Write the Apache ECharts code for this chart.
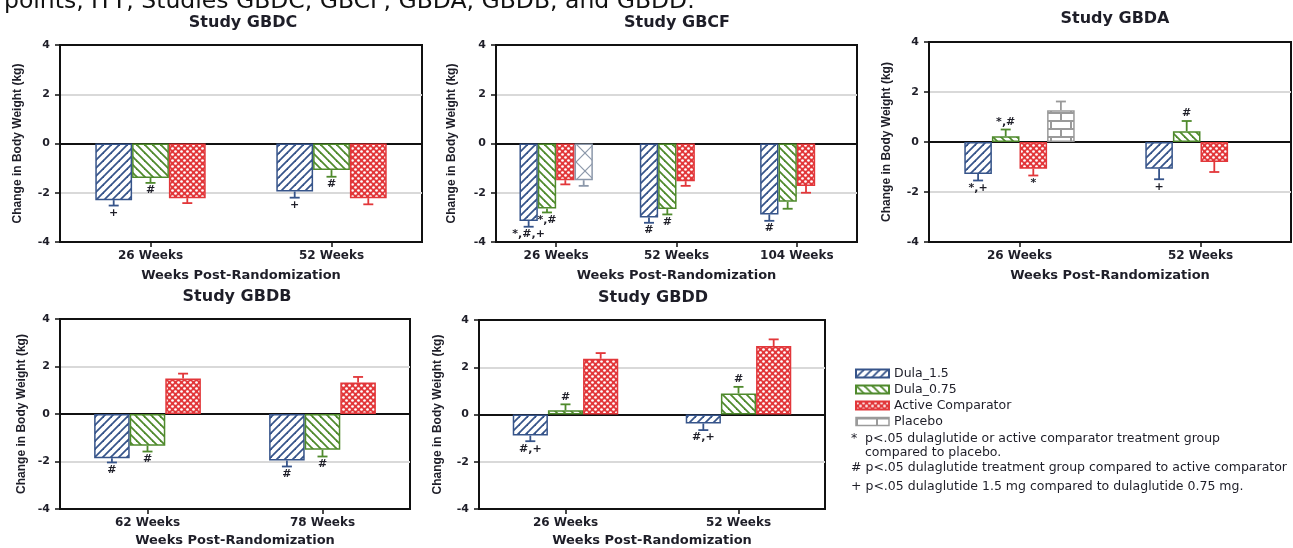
<!DOCTYPE html>
<html>
<head>
<meta charset="utf-8">
<script src="https://cdn.jsdelivr.net/npm/echarts@6/dist/echarts.min.js"></script>
<style>
html,body{margin:0;padding:0;background:#fff;}
#chart{width:1293px;height:548px;}
</style>
</head>
<body>
<div id="chart"></div>
<script>
// ---------------- DATA ----------------
const headerText = 'points, ITT, Studies GBDC, GBCF, GBDA, GBDB, and GBDD.';
const studyTitles = ['Study GBDC', 'Study GBCF', 'Study GBDA', 'Study GBDB', 'Study GBDD'];
const seriesNames = ['Dula_1.5', 'Dula_0.75', 'Active Comparator', 'Placebo'];
const xAxisTitle = 'Weeks Post-Randomization';
const yAxisTitle = 'Change in Body Weight (kg)';
const yMin = -4, yMax = 4, yStep = 2;
const footnotes = [
  ['*', 'p<.05 dulaglutide or active comparator treatment group'],
  ['', 'compared to placebo.'],
  ['', '# p<.05 dulaglutide treatment group compared to active comparator'],
  ['', '+ p<.05 dulaglutide 1.5 mg compared to dulaglutide 0.75 mg.']
];

// Study GBDC
const gbdcWeeks = ['26 Weeks', '52 Weeks'];
const gbdcDula15 = [-2.30, -1.95];  const gbdcDula15SE = [0.22, 0.25];  const gbdcDula15Sig = ['+', '+'];
const gbdcDula075 = [-1.40, -1.08]; const gbdcDula075SE = [0.20, 0.27]; const gbdcDula075Sig = ['#', '#'];
const gbdcActive = [-2.22, -2.22];  const gbdcActiveSE = [0.20, 0.25];  const gbdcActiveSig = ['', ''];

// Study GBCF
const gbcfWeeks = ['26 Weeks', '52 Weeks', '104 Weeks'];
const gbcfDula15 = [-3.15, -3.01, -2.88];  const gbcfDula15SE = [0.23, 0.21, 0.26];  const gbcfDula15Sig = ['*,#,+', '#', '#'];
const gbcfDula075 = [-2.64, -2.66, -2.37]; const gbcfDula075SE = [0.16, 0.22, 0.28]; const gbcfDula075Sig = ['*,#', '#', ''];
const gbcfActive = [-1.49, -1.53, -1.73];  const gbcfActiveSE = [0.17, 0.19, 0.27];  const gbcfActiveSig = ['', '', ''];
const gbcfPlacebo = [-1.49, null, null];   const gbcfPlaceboSE = [0.23, null, null]; const gbcfPlaceboSig = ['', '', ''];

// Study GBDA
const gbdaWeeks = ['26 Weeks', '52 Weeks'];
const gbdaDula15 = [-1.28, -1.07];  const gbdaDula15SE = [0.26, 0.42];  const gbdaDula15Sig = ['*,+', '+'];
const gbdaDula075 = [0.23, 0.43];   const gbdaDula075SE = [0.27, 0.41]; const gbdaDula075Sig = ['*,#', '#'];
const gbdaActive = [-1.07, -0.80];  const gbdaActiveSE = [0.27, 0.40];  const gbdaActiveSig = ['*', ''];
const gbdaPlacebo = [1.27, null];   const gbdaPlaceboSE = [0.35, null]; const gbdaPlaceboSig = ['', ''];

// Study GBDB
const gbdbWeeks = ['62 Weeks', '78 Weeks'];
const gbdbDula15 = [-1.86, -1.96];  const gbdbDula15SE = [0.18, 0.25];  const gbdbDula15Sig = ['#', '#'];
const gbdbDula075 = [-1.34, -1.51]; const gbdbDula075SE = [0.24, 0.28]; const gbdbDula075Sig = ['#', '#'];
const gbdbActive = [1.49, 1.33];    const gbdbActiveSE = [0.21, 0.23];  const gbdbActiveSig = ['', ''];

// Study GBDD
const gbddWeeks = ['26 Weeks', '52 Weeks'];
const gbddDula15 = [-0.89, -0.38];  const gbddDula15SE = [0.24, 0.28];  const gbddDula15Sig = ['#,+', '#,+'];
const gbddDula075 = [0.18, 0.89];   const gbddDula075SE = [0.25, 0.28]; const gbddDula075Sig = ['#', '#'];
const gbddActive = [2.36, 2.90];    const gbddActiveSE = [0.24, 0.28];  const gbddActiveSig = ['', ''];

// ---------------- STYLE ----------------
const FONT = '"DejaVu Sans", Verdana, sans-serif';
const TXT = '#1e1e28';
const BLUE = '#36548a', GREEN = '#4f8a2c', RED = '#e2373a', GRAY = '#9a9a9a', GRAYBLUE = '#8c98aa';
const CAT_GAP = 0.39;

function makePattern(w, h, draw) {
  const c = document.createElement('canvas');
  c.width = w; c.height = h;
  const ctx = c.getContext('2d');
  ctx.fillStyle = '#fff'; ctx.fillRect(0, 0, w, h);
  draw(ctx, w, h);
  return { image: c, repeat: 'repeat' };
}
function diag(ctx, s, dir) {
  for (let k = -1; k <= 1; k++) {
    ctx.beginPath();
    if (dir > 0) { ctx.moveTo(k * s - 1, s + 1); ctx.lineTo(k * s + s + 1, -1); }
    else { ctx.moveTo(k * s - 1, -1); ctx.lineTo(k * s + s + 1, s + 1); }
    ctx.stroke();
  }
}
const patBlue = makePattern(8, 8, (ctx) => { ctx.strokeStyle = BLUE; ctx.lineWidth = 1.8; diag(ctx, 8, 1); });
const patGreen = makePattern(8, 8, (ctx) => { ctx.strokeStyle = GREEN; ctx.lineWidth = 1.8; diag(ctx, 8, -1); });
const patRed = makePattern(6, 6, (ctx) => {
  ctx.fillStyle = RED; ctx.fillRect(0, 0, 6, 6);
  ctx.fillStyle = '#fff';
  [[1.5, 1.5], [4.5, 4.5]].forEach(([cx, cy]) => { ctx.beginPath(); ctx.arc(cx, cy, 1.35, 0, Math.PI * 2); ctx.fill(); });
});
const patBrick = makePattern(20, 16, (ctx) => {
  ctx.strokeStyle = GRAY; ctx.lineWidth = 2;
  ctx.beginPath();
  ctx.moveTo(0, 1); ctx.lineTo(20, 1);
  ctx.moveTo(0, 9); ctx.lineTo(20, 9);
  ctx.moveTo(1, 1); ctx.lineTo(1, 9);
  ctx.moveTo(11, 9); ctx.lineTo(11, 17);
  ctx.stroke();
});
const patX = makePattern(18, 18, (ctx) => { ctx.strokeStyle = GRAYBLUE; ctx.lineWidth = 1.2; diag(ctx, 18, 1); diag(ctx, 18, -1); });

const styleBlue = { pattern: patBlue, color: BLUE };
const styleGreen = { pattern: patGreen, color: GREEN };
const styleRed = { pattern: patRed, color: RED };
const styleBrick = { pattern: patBrick, color: GRAY };
const styleX = { pattern: patX, color: GRAYBLUE };

const panels = [
  { cats: gbdcWeeks, groups: [
    { name: seriesNames[0], val: gbdcDula15, se: gbdcDula15SE, sig: gbdcDula15Sig, st: styleBlue },
    { name: seriesNames[1], val: gbdcDula075, se: gbdcDula075SE, sig: gbdcDula075Sig, st: styleGreen },
    { name: seriesNames[2], val: gbdcActive, se: gbdcActiveSE, sig: gbdcActiveSig, st: styleRed } ] },
  { cats: gbcfWeeks, groups: [
    { name: seriesNames[0], val: gbcfDula15, se: gbcfDula15SE, sig: gbcfDula15Sig, st: styleBlue },
    { name: seriesNames[1], val: gbcfDula075, se: gbcfDula075SE, sig: gbcfDula075Sig, st: styleGreen },
    { name: seriesNames[2], val: gbcfActive, se: gbcfActiveSE, sig: gbcfActiveSig, st: styleRed },
    { name: seriesNames[3], val: gbcfPlacebo, se: gbcfPlaceboSE, sig: gbcfPlaceboSig, st: styleX } ] },
  { cats: gbdaWeeks, groups: [
    { name: seriesNames[0], val: gbdaDula15, se: gbdaDula15SE, sig: gbdaDula15Sig, st: styleBlue },
    { name: seriesNames[1], val: gbdaDula075, se: gbdaDula075SE, sig: gbdaDula075Sig, st: styleGreen },
    { name: seriesNames[2], val: gbdaActive, se: gbdaActiveSE, sig: gbdaActiveSig, st: styleRed },
    { name: seriesNames[3], val: gbdaPlacebo, se: gbdaPlaceboSE, sig: gbdaPlaceboSig, st: styleBrick } ] },
  { cats: gbdbWeeks, groups: [
    { name: seriesNames[0], val: gbdbDula15, se: gbdbDula15SE, sig: gbdbDula15Sig, st: styleBlue },
    { name: seriesNames[1], val: gbdbDula075, se: gbdbDula075SE, sig: gbdbDula075Sig, st: styleGreen },
    { name: seriesNames[2], val: gbdbActive, se: gbdbActiveSE, sig: gbdbActiveSig, st: styleRed } ] },
  { cats: gbddWeeks, groups: [
    { name: seriesNames[0], val: gbddDula15, se: gbddDula15SE, sig: gbddDula15Sig, st: styleBlue },
    { name: seriesNames[1], val: gbddDula075, se: gbddDula075SE, sig: gbddDula075Sig, st: styleGreen },
    { name: seriesNames[2], val: gbddActive, se: gbddActiveSE, sig: gbddActiveSig, st: styleRed } ] }
];

// layout (positions only)
const layout = [
  { left: 60, top: 45, width: 362, height: 197, tx: 243, ty: 23, yGap: 36, xGap: 27 },
  { left: 496, top: 45, width: 361, height: 197, tx: 677, ty: 23, yGap: 38, xGap: 27 },
  { left: 929, top: 42, width: 362, height: 200, tx: 1115, ty: 19, yGap: 36, xGap: 27 },
  { left: 60, top: 319, width: 350, height: 190, tx: 237, ty: 297, yGap: 32, xGap: 25 },
  { left: 479, top: 320, width: 346, height: 189, tx: 653, ty: 298, yGap: 35, xGap: 25 }
];

const grids = [], xAxes = [], yAxes = [], series = [], graphics = [];

panels.forEach((pn, p) => {
  const L = layout[p];
  grids.push({ left: L.left, top: L.top, width: L.width, height: L.height, show: true, borderColor: '#111', borderWidth: 2, backgroundColor: 'transparent' });
  xAxes.push({
    type: 'category', gridIndex: p, data: pn.cats,
    axisLine: { show: true, onZero: false, lineStyle: { color: '#111', width: 2 } },
    axisTick: { show: true, alignWithLabel: true, length: 5, lineStyle: { color: '#111', width: 1.5 } },
    axisLabel: { color: TXT, fontFamily: FONT, fontWeight: 'bold', fontSize: 12, margin: 8 },
    splitLine: { show: false },
    name: xAxisTitle, nameLocation: 'middle', nameGap: L.xGap,
    nameTextStyle: { color: TXT, fontFamily: FONT, fontWeight: 'bold', fontSize: 13 }
  });
  yAxes.push({
    type: 'value', gridIndex: p, min: yMin, max: yMax, interval: yStep,
    axisLine: { show: true, lineStyle: { color: '#111', width: 2 } },
    axisTick: { show: true, length: 5, lineStyle: { color: '#111', width: 1.5 } },
    axisLabel: { color: TXT, fontFamily: FONT, fontWeight: 'bold', fontSize: 11, margin: 10 },
    splitLine: { show: true, lineStyle: { color: ['rgba(0,0,0,0)', '#d9d9d9', '#111', '#d9d9d9', 'rgba(0,0,0,0)'], width: 2 } },
    name: yAxisTitle, nameLocation: 'middle', nameGap: L.yGap,
    nameTextStyle: { color: TXT, fontFamily: '"Liberation Sans", Arial, sans-serif', fontWeight: 'bold', fontSize: 12 }
  });
  const n = pn.groups.length;
  pn.groups.forEach((g) => {
    series.push({
      type: 'bar', name: g.name, xAxisIndex: p, yAxisIndex: p, data: g.val,
      barGap: '0%', barCategoryGap: (CAT_GAP * 100) + '%',
      itemStyle: { color: g.st.pattern, borderColor: g.st.color, borderWidth: 1.5 },
      emphasis: { disabled: true }, animation: false, z: 2
    });
  });
  // error bars + significance markers
  const data = [], meta = [];
  pn.groups.forEach((g, slot) => {
    g.val.forEach((v, ci) => {
      if (v == null) return;
      data.push([ci, v, g.se[ci], slot]);
      meta.push({ color: g.st.color, sig: g.sig[ci] });
    });
  });
  series.push({
    type: 'custom', xAxisIndex: p, yAxisIndex: p, silent: true, animation: false, z: 5,
    encode: { x: 0, y: 1 }, data: data,
    renderItem: function (params, api) {
      const m = meta[params.dataIndex];
      const ci = api.value(0), v = api.value(1), se = api.value(2), slot = api.value(3);
      const band = api.size([1, 0])[0];
      const group = band * (1 - CAT_GAP);
      const bw = group / n;
      const c0 = api.coord([ci, v]);
      const end = v + (v < 0 ? -se : se);
      const c1 = api.coord([ci, end]);
      const x = c0[0] - group / 2 + bw * (slot + 0.5);
      const children = [
        { type: 'line', shape: { x1: x, y1: c0[1], x2: x, y2: c1[1] }, style: { stroke: m.color, lineWidth: 1.8 } },
        { type: 'line', shape: { x1: x - 5, y1: c1[1], x2: x + 5, y2: c1[1] }, style: { stroke: m.color, lineWidth: 1.8 } }
      ];
      if (m.sig) {
        children.push({
          type: 'text', x: x, y: v < 0 ? c1[1] + 2 : c1[1] - 2,
          style: { text: m.sig, fill: TXT, font: 'bold 11px ' + FONT, align: 'center', verticalAlign: v < 0 ? 'top' : 'bottom' }
        });
      }
      return { type: 'group', children: children };
    }
  });
  graphics.push({ type: 'text', x: L.tx, y: L.ty, style: { text: studyTitles[p], fill: TXT, font: 'bold 16px ' + FONT, align: 'center', verticalAlign: 'middle' } });
});

graphics.push({ type: 'text', x: 4, y: 14, style: { text: headerText, fill: '#111', font: '23.5px ' + FONT, align: 'left', verticalAlign: 'bottom' } });
const fnY = [439, 453, 468, 487];
footnotes.forEach((f, i) => {
  if (f[0]) graphics.push({ type: 'text', x: 851, y: fnY[i], style: { text: f[0], fill: TXT, font: '12.5px ' + FONT, align: 'left', verticalAlign: 'middle' } });
  graphics.push({ type: 'text', x: i < 2 ? 865 : 851, y: fnY[i], style: { text: f[1], fill: TXT, font: '12.5px ' + FONT, align: 'left', verticalAlign: 'middle' } });
});

const chart = echarts.init(document.getElementById('chart'));
chart.setOption({
  animation: false,
  backgroundColor: '#fff',
  grid: grids, xAxis: xAxes, yAxis: yAxes, series: series, graphic: graphics,
  legend: {
    orient: 'vertical', left: 850, top: 362, itemWidth: 33, itemHeight: 8, itemGap: 3,
    selectedMode: false, icon: 'rect',
    textStyle: { color: TXT, fontFamily: FONT, fontSize: 12.5 },
    data: [
      { name: seriesNames[0] },
      { name: seriesNames[1] },
      { name: seriesNames[2] },
      { name: seriesNames[3], itemStyle: { color: patBrick, borderColor: GRAY, borderWidth: 1.5 } }
    ]
  }
});
</script>
</body>
</html>
